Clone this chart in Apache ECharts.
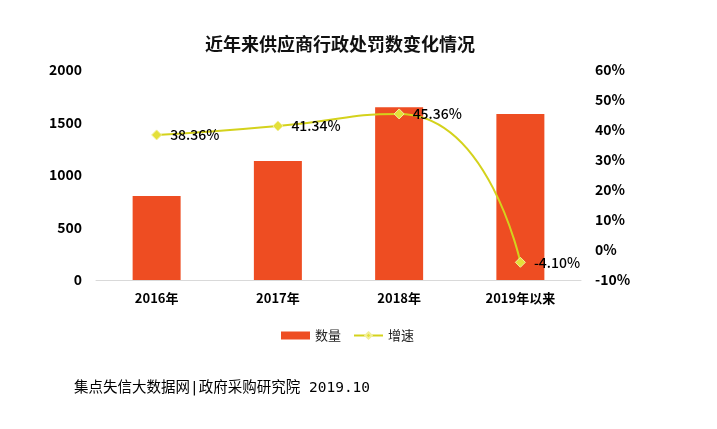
<!DOCTYPE html>
<html>
<head>
<meta charset="utf-8">
<script src="https://cdn.jsdelivr.net/npm/echarts@6/dist/echarts.min.js"></script>
<style>
  html, body { margin: 0; padding: 0; background: #fff; }
  #main { width: 717px; height: 429px; }
</style>
</head>
<body>
<div id="main"></div>
<script>
// 数据
var categories = ['2016年', '2017年', '2018年', '2019年以来'];
var countValues = [800, 1133, 1645, 1581];
var growthValues = [38.36, 41.34, 45.36, -4.10];

var font = '"Noto Sans CJK SC", sans-serif';
var chart = echarts.init(document.getElementById('main'));
var option = {
    backgroundColor: '#fff',
    title: {
        text: '近年来供应商行政处罚数变化情况',
        left: 200,
        top: 30,
        textStyle: {
            fontFamily: font,
            fontSize: 18,
            fontWeight: 'bold',
            color: '#111'
        }
    },
    // 图表的位置
    grid: {
        left: 96,
        right: 136,
        top: 70,
        bottom: 149
    },
    legend: {
        top: 324,
        left: 276,
        itemGap: 12,
        itemWidth: 29,
        itemHeight: 8,
        textStyle: { fontFamily: font, fontSize: 13, color: '#222' },
        data: [
            { name: '数量', icon: 'rect' },
            { name: '增速' }
        ]
    },
    xAxis: {
        type: 'category',
        data: categories,
        axisLine: { lineStyle: { color: '#d9d9d9', width: 1 } },
        axisTick: { show: false },
        axisLabel: {
            margin: 12,
            fontFamily: font,
            fontSize: 13,
            fontWeight: 'bold',
            color: '#000'
        }
    },
    yAxis: [{
            type: 'value',
            min: 0,
            max: 2000,
            interval: 500,
            axisLine: { show: false },
            axisTick: { show: false },
            splitLine: { show: false },
            axisLabel: {
                margin: 14,
                fontFamily: font,
                fontSize: 14,
                fontWeight: 'bold',
                color: '#000',
                formatter: function (v) { return String(v); }
            }
        },
        {
            type: 'value',
            min: -10,
            max: 60,
            interval: 10,
            axisLine: { show: false },
            axisTick: { show: false },
            splitLine: { show: false },
            axisLabel: {
                margin: 14,
                fontFamily: font,
                fontSize: 14,
                fontWeight: 'bold',
                color: '#000',
                formatter: '{value}%'
            }
        }
    ],
    series: [{
            name: '数量',
            type: 'bar',
            barWidth: 48,
            data: countValues,
            itemStyle: { color: '#ee4d22' }
        },
        {
            name: '增速',
            type: 'line',
            yAxisIndex: 1,
            smooth: 0.6,
            data: growthValues,
            symbol: 'diamond',
            symbolSize: 10,
            lineStyle: { color: '#d4d21c', width: 2 },
            itemStyle: { color: '#e4e03a', borderColor: '#f2ef9a', borderWidth: 1 },
            label: {
                show: true,
                position: 'right',
                distance: 8,
                fontFamily: font,
                fontSize: 14,
                fontWeight: 500,
                color: '#000',
                formatter: function (p) { return p.value.toFixed(2) + '%'; }
            }
        }
    ],
    graphic: [{
        type: 'text',
        left: 74,
        top: 381,
        style: {
            text: '集点失信大数据网|政府采购研究院 2019.10',
            font: '14.5px "DejaVu Sans Mono", "Noto Sans CJK SC", monospace',
            fill: '#000'
        }
    }]
};
chart.setOption(option);
</script>
</body>
</html>
